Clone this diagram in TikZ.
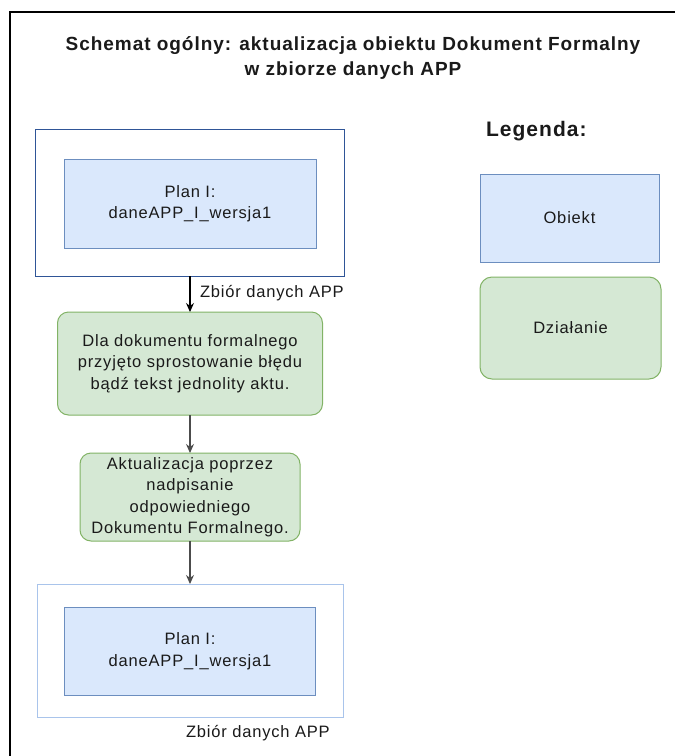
\documentclass[tikz,border=0pt]{standalone}
\usepackage{fontspec}
\setmainfont{Liberation Sans}[LetterSpace=5]
\usetikzlibrary{arrows.meta}
\definecolor{objfill}{HTML}{DAE8FC}
\definecolor{objline}{HTML}{6C8EBF}
\definecolor{actfill}{HTML}{D5E8D4}
\definecolor{actline}{HTML}{82B366}
\definecolor{setdark}{HTML}{2F5597}
\definecolor{setlight}{HTML}{A9C4EB}
\definecolor{txt}{HTML}{1A1A1A}
\begin{document}
\begin{tikzpicture}[x=1pt,y=-1pt,
  every node/.style={inner sep=0pt, outer sep=0pt, text=txt},
  body/.style={font=\fontsize{16.5}{21.5}\selectfont, align=center},
  setbox/.style={draw, line width=1pt, fill=white},
  objbox/.style={body, draw=objline, fill=objfill, line width=1pt},
  actbox/.style={body, draw=actline, fill=actfill, line width=1pt, rounded corners=11pt},
  flow/.style={line width=1.1pt, -{Stealth[length=9pt,width=8pt]}},
  lbl/.style={font=\fontsize{16.5}{18}\selectfont, anchor=west}
]
\useasboundingbox (0,0) rectangle (675,756);
\fill[white] (0,0) rectangle (675,756);
% outer frame (partially visible)
\draw[line width=1.4pt, black] (10,756) -- (10,12) -- (675,12);

% title
\node[font=\bfseries\fontsize{19}{25}\selectfont, align=center] (title) at (353,57.5)
  {Schemat ogólny: aktualizacja obiektu Dokument Formalny\\w zbiorze danych APP};

% flow
\node[setbox, draw=setdark, minimum width=309, minimum height=147] (set1) at (190,202.5) {};
\node[objbox, minimum width=252, minimum height=89] (obj1) at (190,203.5) {Plan I:\\daneAPP\_I\_wersja1};
\node[actbox, minimum width=265, minimum height=103] (act1) at (190,363.5)
  {Dla dokumentu formalnego\\przyjęto sprostowanie błędu\\bądź tekst jednolity aktu.};
\node[actbox, minimum width=220, minimum height=88] (act2) at (190,497)
  {Aktualizacja poprzez\\nadpisanie\\odpowiedniego\\Dokumentu Formalnego.};
\node[setbox, draw=setlight, minimum width=306, minimum height=133] (set2) at (190,650.5) {};
\node[objbox, minimum width=251, minimum height=88] (obj2) at (190,651) {Plan I:\\daneAPP\_I\_wersja1};

\draw[flow, black] (set1.south) -- (act1.north);
\draw[flow, black!70] (act1.south) -- (act2.north);
\draw[flow, black!70] (act2.south) -- (set2.north);

\node[lbl] (lab1) at (200,293) {Zbiór danych APP};
\node[lbl] (lab2) at (186,733) {Zbiór danych APP};

% legend
\node[font=\bfseries\fontsize{21}{24}\selectfont, anchor=west] (legtitle) at (486,131) {Legenda:};
\node[objbox, minimum width=179, minimum height=88] (legobj) at (569.5,218) {Obiekt};
\node[actbox, rounded corners=12pt, minimum width=181, minimum height=102] (legact) at (570.5,328) {Działanie};
\end{tikzpicture}
\end{document}
